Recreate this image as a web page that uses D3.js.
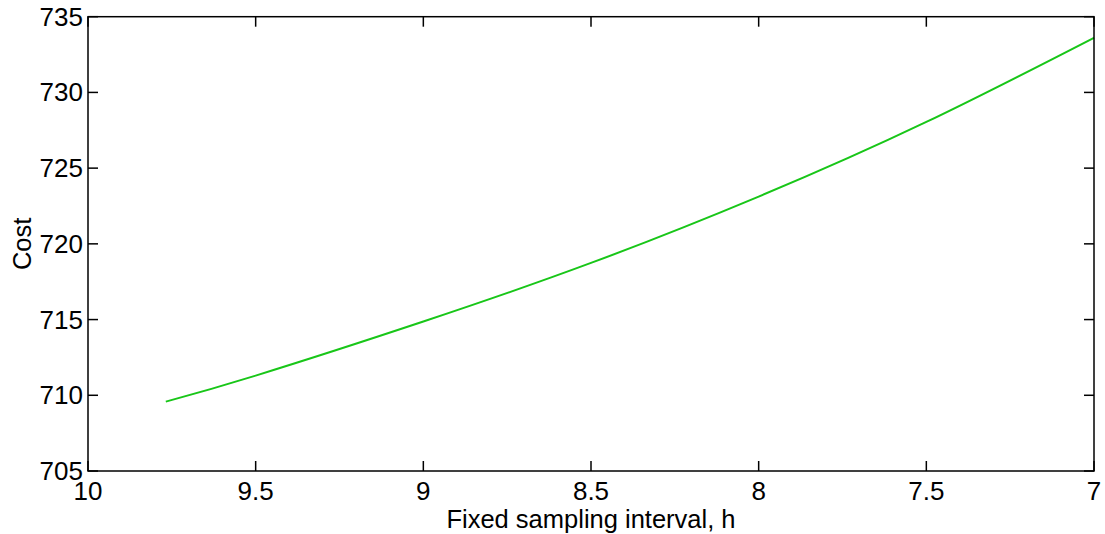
<!DOCTYPE html>
<html>
<head>
  <meta charset="utf-8">
  <script src="https://d3js.org/d3.v7.min.js"></script>
  <style>
    body { margin: 0; background: #fff; }
    text { font-family: Arial, "Liberation Sans", sans-serif; fill: #000; }
  </style>
</head>
<body>
  <script type="text/javascript">
    // values
    var interval = [9.768, 9.5, 9.0, 8.5, 8.0, 7.5, 7.0];
    var cost     = [709.58, 711.30, 714.87, 718.74, 723.12, 728.05, 733.61];
    var xTicks = [10, 9.5, 9, 8.5, 8, 7.5, 7];
    var yTicks = [705, 710, 715, 720, 725, 730, 735];

    function draw() {
      var width = 1105, height = 534;
      var pL = 88, pR = 1094, pT = 16.7, pB = 471;

      var svg = d3.select("body").append("svg")
          .attr("width", width)
          .attr("height", height);

      var x = d3.scaleLinear().domain([10, 7]).range([pL, pR]);
      var y = d3.scaleLinear().domain([705, 735]).range([pB, pT]);

      var data = interval.map(function(h, i) { return { h: h, c: cost[i] }; });

      // curve
      var line = d3.line()
          .x(function(d) { return x(d.h); })
          .y(function(d) { return y(d.c); })
          .curve(d3.curveNatural);

      svg.append("path")
          .datum(data)
          .attr("fill", "none")
          .attr("stroke", "rgb(24,198,24)")
          .attr("stroke-width", 2)
          .attr("d", line);

      // box with inward ticks on all four sides
      var tk = 10;
      var g = svg.append("g").attr("stroke", "#000").attr("stroke-width", 1.5);
      g.append("rect")
          .attr("x", pL).attr("y", pT)
          .attr("width", pR - pL).attr("height", pB - pT)
          .attr("fill", "none");

      xTicks.forEach(function(t) {
        g.append("line").attr("x1", x(t)).attr("x2", x(t)).attr("y1", pB).attr("y2", pB - tk);
        g.append("line").attr("x1", x(t)).attr("x2", x(t)).attr("y1", pT).attr("y2", pT + tk);
      });
      yTicks.forEach(function(t) {
        g.append("line").attr("x1", pL).attr("x2", pL + tk).attr("y1", y(t)).attr("y2", y(t));
        g.append("line").attr("x1", pR).attr("x2", pR - tk).attr("y1", y(t)).attr("y2", y(t));
      });

      svg.selectAll(".xl")
          .data(xTicks)
          .enter().append("text")
          .attr("x", function(d) { return x(d); })
          .attr("y", 500)
          .attr("text-anchor", "middle")
          .style("font-size", "26px")
          .text(function(d) { return d; });

      svg.selectAll(".yl")
          .data(yTicks)
          .enter().append("text")
          .attr("x", pL - 5)
          .attr("y", function(d) { return y(d) + 9; })
          .attr("text-anchor", "end")
          .style("font-size", "26px")
          .text(function(d) { return d; });

      svg.append("text")
          .attr("x", (pL + pR) / 2)
          .attr("y", 528)
          .attr("text-anchor", "middle")
          .style("font-size", "25.5px")
          .text("Fixed sampling interval, h");

      svg.append("text")
          .attr("transform", "translate(31," + ((pT + pB) / 2) + ") rotate(-90)")
          .attr("text-anchor", "middle")
          .style("font-size", "25.5px")
          .text("Cost");
    }

    draw();
  </script>
</body>
</html>
